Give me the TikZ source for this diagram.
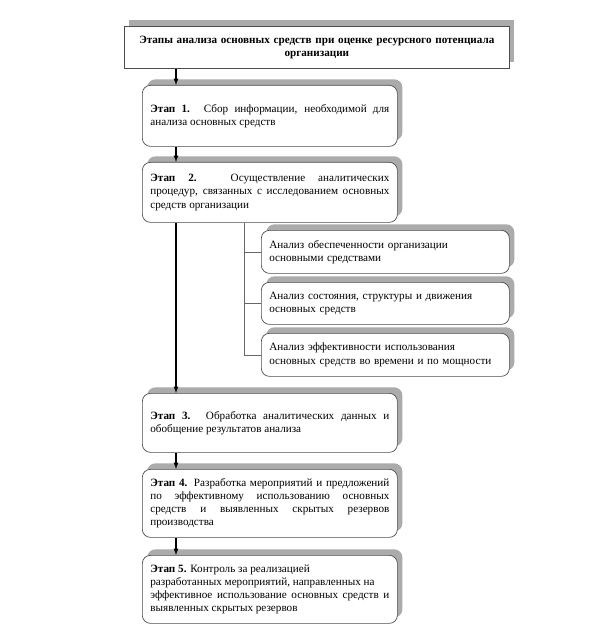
\documentclass[tikz,border=0pt]{standalone}
\usepackage{fontspec}
\setmainfont{Liberation Serif}
\usetikzlibrary{shadows}

\tikzset{
	base/.style={
		draw=black!70, line width=0.7bp, fill=white, anchor=north west,
		font=\fontsize{11.2}{13.2}\selectfont, inner xsep=8bp, inner ysep=2bp,
		drop shadow={shadow xshift=5bp, shadow yshift=6bp, fill=black!33, opacity=1}
	},
	titlebox/.style={base, text width=369bp, minimum height=42bp, align=center},
	stagebox/.style={base, rounded corners=8bp, text width=239bp, align=justify},
	subbox/.style={base, rounded corners=8bp, text width=232bp, minimum height=43bp, align=left},
	arr/.style={black, line width=1.2bp, -latex},
	branch/.style={black!60, line width=0.6bp}
}

\begin{document}
\begin{tikzpicture}[x=1bp, y=-1bp]
		\useasboundingbox (0,0) rectangle (600,635);
		\coordinate (spine) at (176,0);
		\coordinate (br) at (244,0);
		% title and stages
		\node[titlebox] (top) at (124,26) {\bfseries Этапы анализа основных средств при оценке ресурсного потенциала\\ организации};
		\node[stagebox, minimum height=61bp] (s1) at (142,85) {\textbf{Этап 1.} Сбор информации, необходимой для\linebreak анализа основных средств};
		\node[stagebox, minimum height=60bp] (s2) at (142,162) {\textbf{Этап 2.} Осуществление аналитических\linebreak процедур, связанных с исследованием основных\linebreak средств организации};
		\node[subbox] (a1) at (261,230) {Анализ обеспеченности организации\\ основными средствами};
		\node[subbox, minimum height=42bp] (a2) at (261,282) {Анализ состояния, структуры и движения\\ основных средств};
		\node[subbox] (a3) at (261,333) {Анализ эффективности использования\\ основных средств во времени и по мощности};
		\node[stagebox, minimum height=59bp] (s3) at (142,393) {\textbf{Этап 3.} Обработка аналитических данных и\linebreak обобщение результатов анализа};
		\node[stagebox, minimum height=68bp] (s4) at (142,469) {\textbf{Этап 4.} Разработка мероприятий и предложений\linebreak по эффективному использованию основных\linebreak средств и выявленных скрытых резервов\linebreak производства};
		\node[stagebox, minimum height=68bp] (s5) at (142,555) {\textbf{Этап 5.} Контроль за реализацией\\ разработанных мероприятий, направленных на\\ эффективное использование основных средств и\linebreak выявленных скрытых резервов};
		% connectors
		\foreach \a/\b in {top/s1, s1/s2, s2/s3, s3/s4, s4/s5}
			\draw[arr] (\a.south -| spine) -- (\b.north -| spine);
		\draw[branch] (s2.south -| br) |- (a3.west);
		\foreach \n in {a1, a2}
			\draw[branch] (br |- \n.west) -- (\n.west);
	\end{tikzpicture}
\end{document}
